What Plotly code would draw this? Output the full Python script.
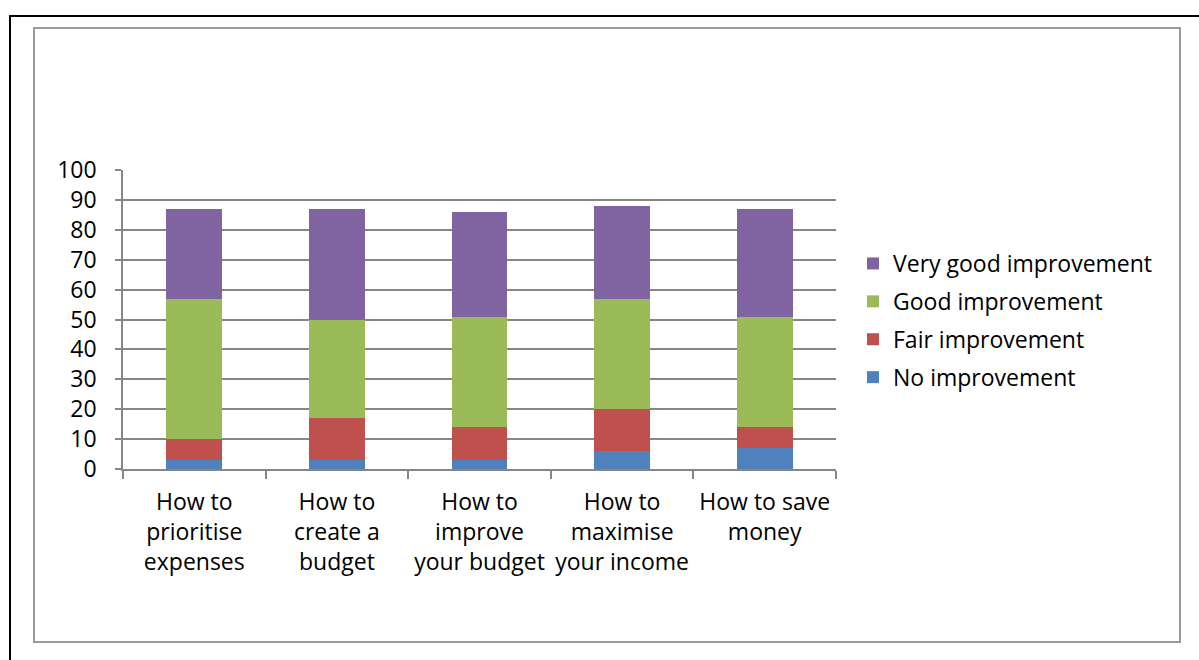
import plotly.graph_objects as go

categories = [
    "How to<br>prioritise<br>expenses",
    "How to<br>create a<br>budget",
    "How to<br>improve<br>your budget",
    "How to<br>maximise<br>your income",
    "How to save<br>money",
]
no_improvement = [3, 3, 3, 6, 7]
fair_improvement = [7, 14, 11, 14, 7]
good_improvement = [47, 33, 37, 37, 37]
very_good_improvement = [30, 37, 35, 31, 36]

series = [
    ("No improvement", no_improvement, "#4F81BD", 4),
    ("Fair improvement", fair_improvement, "#C0504D", 3),
    ("Good improvement", good_improvement, "#9BBB59", 2),
    ("Very good improvement", very_good_improvement, "#8064A2", 1),
]

W, H = 1199, 660
L, R, T, B = 123, 836, 170, 469  # plot area in pixels
FONT = "Open Sans"
FS = 23

fig = go.Figure()
for name, vals, color, rank in series:
    fig.add_trace(go.Bar(
        name=name, x=categories, y=vals, width=0.39,
        marker=dict(color=color, line=dict(width=0)),
        legendgroup=name, legendrank=rank,
    ))


def px_x(p):
    return (p - L) / (R - L)


def px_y(p):
    return (B - p) / (B - T)


shapes = [
    # outer frame
    dict(type="rect", xref="paper", yref="paper",
         x0=px_x(10), x1=px_x(1260), y0=px_y(16), y1=px_y(720),
         line=dict(color="#000000", width=2), fillcolor="rgba(0,0,0,0)", layer="below"),
    # chart area frame
    dict(type="rect", xref="paper", yref="paper",
         x0=px_x(34), x1=px_x(1180), y0=px_y(28), y1=px_y(642),
         line=dict(color="#9a9a9a", width=2), fillcolor="rgba(0,0,0,0)", layer="below"),
]

fig.update_layout(
    width=W, height=H,
    margin=dict(l=L, r=W - R, t=T, b=H - B, pad=0),
    paper_bgcolor="white", plot_bgcolor="white",
    barmode="stack",
    font=dict(family=FONT, size=FS, color="#000000"),
    shapes=shapes,
    showlegend=True,
    legend=dict(
        x=px_x(853), y=px_y(242), xanchor="left", yanchor="top",
        traceorder="grouped", tracegroupgap=5,
        font=dict(family=FONT, size=FS, color="#000000"),
        bgcolor="rgba(0,0,0,0)", itemwidth=30,
    ),
    xaxis=dict(
        showline=True, linecolor="#868686", linewidth=1.5,
        ticks="outside", ticklen=8, tickcolor="#868686", tickwidth=1.5,
        tickson="boundaries", showgrid=False, tickangle=0,
        tickfont=dict(family=FONT, size=FS, color="#000000"),
        ticklabelstandoff=12,
        range=[-0.5, 4.5],
    ),
    yaxis=dict(
        range=[0, 100], dtick=10, tick0=0,
        showline=True, linecolor="#868686", linewidth=1.5,
        ticks="outside", ticklen=6, tickcolor="#868686", tickwidth=1.5,
        showgrid=True, gridcolor="#868686", gridwidth=1.5,
        zeroline=False,
        tickfont=dict(family=FONT, size=FS, color="#000000"),
        ticklabelstandoff=14,
    ),
)

fig.write_html("out.html")
